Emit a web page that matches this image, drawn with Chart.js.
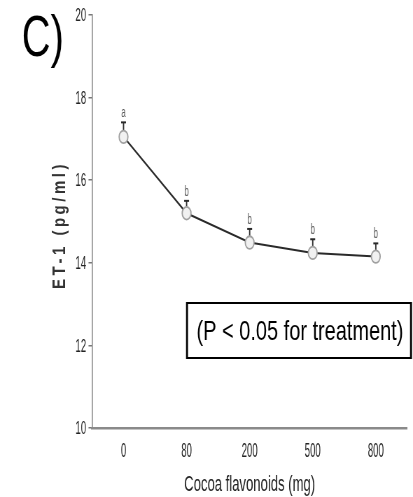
<!DOCTYPE html>
<html>
<head>
<meta charset="utf-8">
<script src="https://cdn.jsdelivr.net/npm/chart.js@4/dist/chart.umd.min.js"></script>
<style>
  html, body { margin: 0; padding: 0; background: #fff; overflow: hidden; }
  #wrap { width: 590px; height: 497px; transform: scaleX(0.7); transform-origin: 0 0; }
</style>
</head>
<body>
<div id="wrap"><canvas id="c" width="590" height="497"></canvas></div>
<script>
// ---- data ----
const doses = ['0', '80', '200', '500', '800'];
const et1 = [17.05, 15.2, 14.49, 14.24, 14.15];
const sem = [0.35, 0.3, 0.33, 0.33, 0.32];
const letters = ['a', 'b', 'b', 'b', 'b'];
const yTicks = [10, 12, 14, 16, 18, 20];
const panelLabel = 'C)';
const noteText = '(P < 0.05 for treatment)';
const yTitle = 'ET-1 (pg/ml)';
const xTitle = 'Cocoa flavonoids (mg)';

const SX = 0.7; // horizontal squash of the page
const SANS = '"Liberation Sans", Arial, sans-serif';

function squashText(ctx, text, x, y, kx, align) {
  ctx.save();
  ctx.translate(x, y);
  ctx.scale(kx, 1);
  ctx.textAlign = align;
  ctx.fillText(text, 0, 0);
  ctx.restore();
}

const overlay = {
  id: 'overlay',
  beforeDatasetsDraw(chart) {
    const ctx = chart.ctx, x = chart.scales.x, y = chart.scales.y;
    ctx.save();
    ctx.strokeStyle = '#2a2a2a';
    et1.forEach((v, i) => {
      const px = x.getPixelForValue(i);
      const py = y.getPixelForValue(v);
      const pt = y.getPixelForValue(v + sem[i]);
      ctx.lineWidth = 1.8;
      ctx.beginPath(); ctx.moveTo(px, py); ctx.lineTo(px, pt); ctx.stroke();
      ctx.lineWidth = 2;
      ctx.beginPath(); ctx.moveTo(px - 3.5, pt); ctx.lineTo(px + 3.5, pt); ctx.stroke();
      ctx.fillStyle = '#555';
      ctx.font = '14px ' + SANS;
      ctx.textBaseline = 'alphabetic';
      squashText(ctx, letters[i], px, pt - 5, 0.8, 'center');
    });
    ctx.restore();
  },
  afterDraw(chart) {
    const ctx = chart.ctx, xs = chart.scales.x, ys = chart.scales.y;
    ctx.save();
    // tick labels
    ctx.fillStyle = '#222';
    ctx.font = '19px ' + SANS;
    ctx.textBaseline = 'middle';
    yTicks.forEach(v => {
      squashText(ctx, String(v), 123, ys.getPixelForValue(v) + 1, 0.72, 'right');
    });
    ctx.font = '21px ' + SANS;
    ctx.textBaseline = 'alphabetic';
    doses.forEach((d, i) => {
      squashText(ctx, d, xs.getPixelForValue(i), 457, 0.65, 'center');
    });
    // x title
    ctx.font = '22px ' + SANS;
    squashText(ctx, xTitle, (xs.left + xs.right) / 2, 491, 0.85, 'center');
    // panel label
    ctx.fillStyle = '#000';
    ctx.font = '57px ' + SANS;
    ctx.textAlign = 'left';
    ctx.fillText(panelLabel, 31, 56);
    // y title
    ctx.save();
    ctx.translate(60 / SX, 225);
    ctx.rotate(-Math.PI / 2);
    ctx.scale(1, 1.75);
    ctx.fillStyle = '#333';
    ctx.font = 'bold 15px ' + SANS;
    ctx.letterSpacing = '3.5px';
    ctx.textAlign = 'center';
    ctx.textBaseline = 'middle';
    ctx.fillText(yTitle, 0, 0);
    ctx.restore();
    // note box
    const bx0 = 187 / SX, bx1 = 411 / SX, by0 = 303, by1 = 358;
    ctx.fillStyle = '#fff';
    ctx.fillRect(bx0, by0, bx1 - bx0, by1 - by0);
    ctx.strokeStyle = '#000';
    ctx.lineWidth = 2;
    ctx.beginPath();
    ctx.moveTo(bx0, by0); ctx.lineTo(bx1, by0);
    ctx.moveTo(bx0, by1); ctx.lineTo(bx1, by1);
    ctx.stroke();
    ctx.lineWidth = 2.8;
    ctx.beginPath();
    ctx.moveTo(bx0, by0 - 1); ctx.lineTo(bx0, by1 + 1);
    ctx.moveTo(bx1, by0 - 1); ctx.lineTo(bx1, by1 + 1);
    ctx.stroke();
    ctx.fillStyle = '#000';
    ctx.font = '28.5px ' + SANS;
    ctx.textAlign = 'center';
    ctx.textBaseline = 'alphabetic';
    ctx.fillText(noteText, 300 / SX, 340);
    ctx.restore();
  }
};

new Chart(document.getElementById('c'), {
  type: 'line',
  data: {
    labels: doses,
    datasets: [{
      data: et1,
      borderColor: '#2a2a2a',
      borderWidth: 2,
      pointRadius: 6.3,
      pointBackgroundColor: '#f1f1f1',
      pointBorderColor: '#a0a0a0',
      pointBorderWidth: 1.8,
      tension: 0,
      fill: false
    }]
  },
  options: {
    responsive: false,
    devicePixelRatio: 1,
    animation: false,
    layout: { padding: { top: 15, left: 0, right: 0, bottom: 0 } },
    plugins: { legend: { display: false }, tooltip: { enabled: false } },
    scales: {
      x: {
        offset: true,
        grid: { display: false },
        border: { display: true, color: '#8a8a8a', width: 2.5 },
        ticks: { display: false },
        afterFit(s) { s.height = 69; }
      },
      y: {
        min: 10, max: 20,
        afterBuildTicks(s) { s.ticks = yTicks.map(v => ({ value: v })); },
        grid: { drawOnChartArea: false, drawTicks: true, tickLength: 5, color: '#777', lineWidth: 1.5 },
        border: { display: true, color: '#888', width: 1.6 },
        ticks: { display: false },
        afterFit(s) { s.width = 92 / SX; }
      }
    }
  },
  plugins: [overlay]
});
</script>
</body>
</html>
